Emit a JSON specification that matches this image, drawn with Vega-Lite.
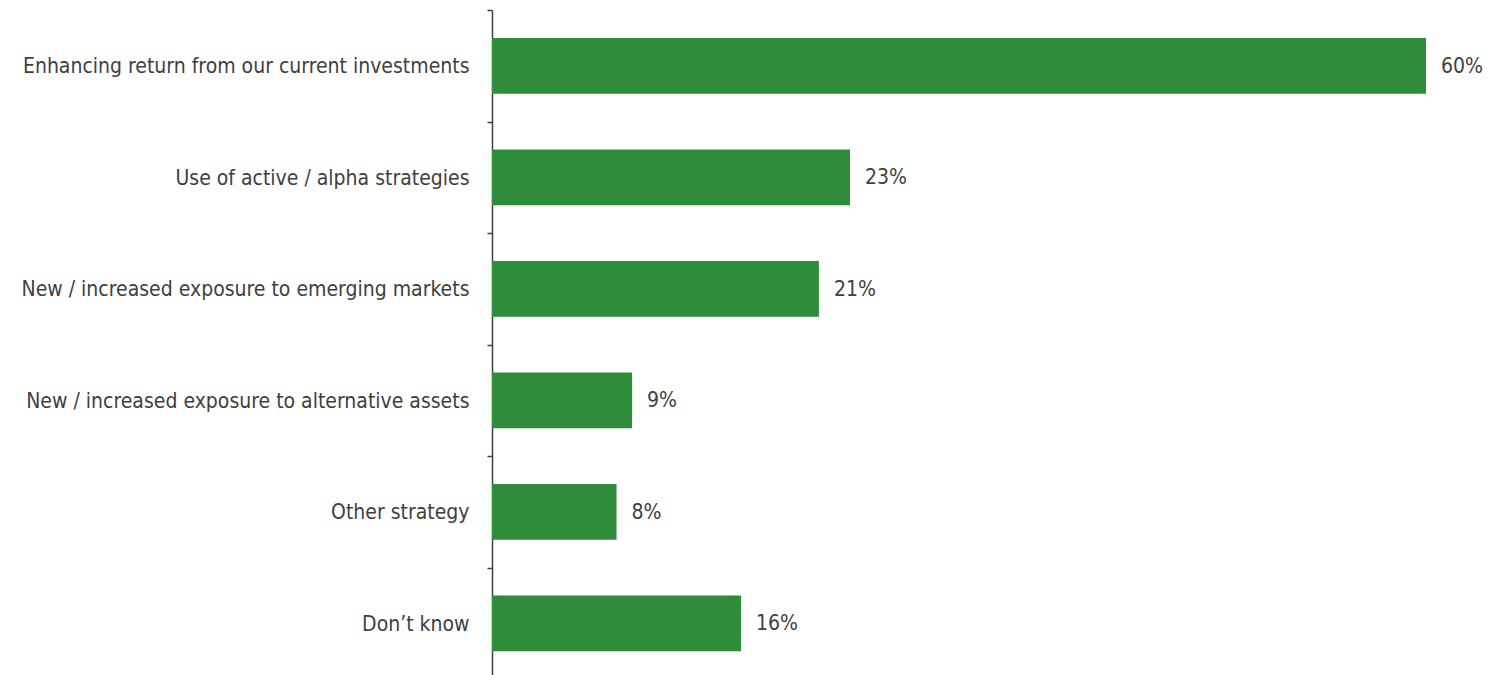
{
  "$schema": "https://vega.github.io/schema/vega-lite/v6.json",
  "width": 934,
  "height": 669,
  "autosize": "none",
  "padding": {"left": 492, "top": 10, "right": 74, "bottom": 0},
  "background": "white",
  "config": {"view": {"stroke": null}, "font": "DejaVu Sans Condensed, Liberation Sans, sans-serif"},
  "data": {"values": [
    {"strategy": "Enhancing return from our current investments", "value": 0.60},
    {"strategy": "Use of active / alpha strategies", "value": 0.23},
    {"strategy": "New / increased exposure to emerging markets", "value": 0.21},
    {"strategy": "New / increased exposure to alternative assets", "value": 0.09},
    {"strategy": "Other strategy", "value": 0.08},
    {"strategy": "Don’t know", "value": 0.16}
  ]},
  "encoding": {
    "y": {"field": "strategy", "type": "nominal", "sort": null,
      "scale": {"paddingInner": 0.5, "paddingOuter": 0.25},
      "axis": {"title": null, "domainColor": "#404040", "domainWidth": 1.5, "tickColor": "#404040", "tickWidth": 1.5, "tickSize": 5, "tickOffset": -55.75, "labelOffset": 56.75, "labelFont": "DejaVu Sans Condensed, Liberation Sans, sans-serif", "labelFontSize": 21, "labelColor": "#404040", "labelPadding": 18, "labelLimit": 600}},
    "x": {"field": "value", "type": "quantitative", "scale": {"domain": [0, 0.6], "nice": false}, "axis": null}
  },
  "layer": [
    {"mark": {"type": "bar", "color": "#2f8c3a"}},
    {"mark": {"type": "text", "align": "left", "baseline": "middle", "dx": 15, "dy": 1, "font": "DejaVu Sans Condensed, Liberation Sans, sans-serif", "fontSize": 21, "color": "#404040"},
     "encoding": {"text": {"field": "value", "type": "quantitative", "format": ".0%"}}}
  ]
}
